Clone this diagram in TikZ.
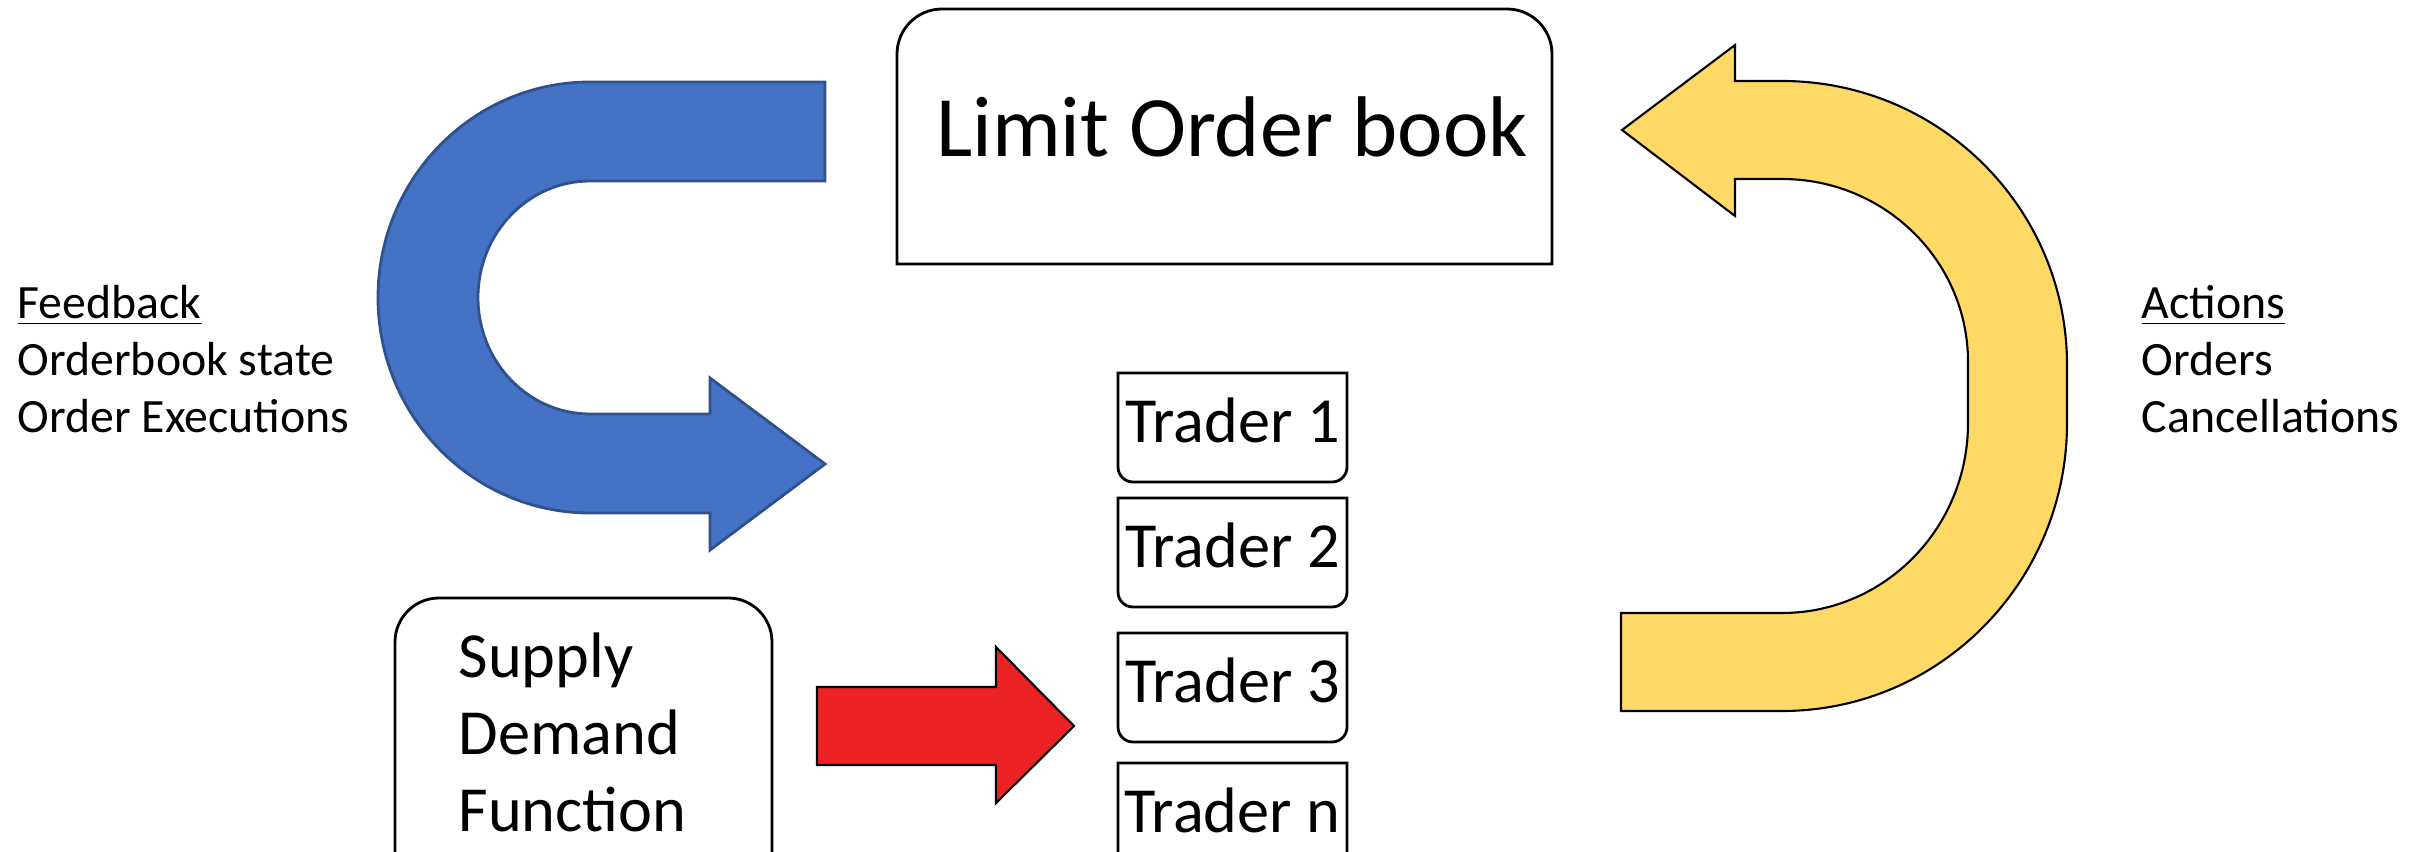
\documentclass[tikz,border=0pt]{standalone}
\usepackage{fontspec}
\setmainfont{Carlito}
\usetikzlibrary{calc}
\definecolor{feedblue}{HTML}{4472C4}
\definecolor{feededge}{HTML}{2F528F}
\definecolor{actgold}{HTML}{FFD966}
\definecolor{supred}{HTML}{ED2224}

\begin{document}
\begin{tikzpicture}[
  outline/.style={draw=black,line width=0.8pt},
  tradertext/.style={anchor=base,inner sep=0pt,font=\fontsize{18.3}{22}\selectfont},
  sidetext/.style={anchor=base west,inner sep=0pt,align=left,font=\fontsize{13.6}{16.2}\selectfont}]
\useasboundingbox (0,0) rectangle (24.22,8.51);
% limit order book
\coordinate (lob) at (8.97,5.87);
\draw[outline] (lob) -- ++(0,2.10) arc[start angle=180,end angle=90,radius=0.45]
  -- ++(5.65,0) arc[start angle=90,end angle=0,radius=0.45] -- ++(0,-2.10) -- cycle;
\node[anchor=base,inner sep=0pt,font=\fontsize{24.5}{29}\selectfont] (lobtext)
  at ($(lob)+(3.35,1.07)$) {Limit Order book};
% traders
\foreach \name/\y in {1/4.78,2/3.53,3/2.18,n/0.88} {
  \coordinate (trader\name) at (11.18,\y);
  \draw[outline] (trader\name) -- ++(0,-0.94) arc[start angle=180,end angle=270,radius=0.15]
    -- ++(1.99,0) arc[start angle=270,end angle=360,radius=0.15] -- ++(0,0.94) -- cycle;
  \node[tradertext] (t\name) at ($(trader\name)+(1.145,-0.69)$) {Trader \name};
}
% supply demand function (base anchor sits on the last line)
\coordinate (sdf) at (3.95,-0.30);
\draw[outline] (sdf) -- ++(0,2.39) arc[start angle=180,end angle=90,radius=0.44]
  -- ++(2.89,0) arc[start angle=90,end angle=0,radius=0.44] -- ++(0,-2.39);
\node[anchor=base west,inner sep=0pt,align=left,font=\fontsize{18.3}{21.8}\selectfont] (sdftext)
  at (4.58,0.20) {Supply\\Demand\\Function};
% red arrow
\filldraw[fill=supred,draw=black,line width=0.6pt] (8.17,1.64) -- (9.96,1.64) -- (9.96,2.04)
  -- (10.74,1.25) -- (9.96,0.48) -- (9.96,0.86) -- (8.17,0.86) -- cycle;
% feedback arrow
\filldraw[fill=feedblue,draw=feededge,line width=0.8pt] (8.25,7.69) -- (5.90,7.69)
  arc[start angle=90,end angle=270,x radius=2.12,y radius=2.155]
  -- (7.10,3.38) -- (7.10,3.01) -- (8.25,3.87) -- (7.10,4.73) -- (7.10,4.37) -- (5.90,4.37)
  arc[start angle=270,end angle=90,x radius=1.12,y radius=1.165] -- (8.25,6.70) -- cycle;
% actions arrow
\filldraw[fill=actgold,draw=black,line width=0.6pt] (17.82,7.70)
  arc[start angle=90,end angle=0,x radius=2.85,y radius=2.84] -- (20.67,4.28)
  arc[start angle=0,end angle=-90,x radius=2.85,y radius=2.88]
  -- (16.21,1.40) -- (16.21,2.38) -- (17.82,2.38)
  arc[start angle=-90,end angle=0,x radius=1.86,y radius=1.90] -- (19.68,4.89)
  arc[start angle=0,end angle=90,x radius=1.86,y radius=1.83]
  -- (17.35,6.72) -- (17.35,6.35) -- (16.22,7.21) -- (17.35,8.06) -- (17.35,7.70) -- cycle;
% side texts
\node[sidetext] (feedback) at (0.17,4.19) {\underline{Feedback}\\Orderbook state\\Order Executions};
\node[sidetext] (actions) at (21.41,4.19) {\underline{Actions}\\Orders\\Cancellations};
\end{tikzpicture}
\end{document}
